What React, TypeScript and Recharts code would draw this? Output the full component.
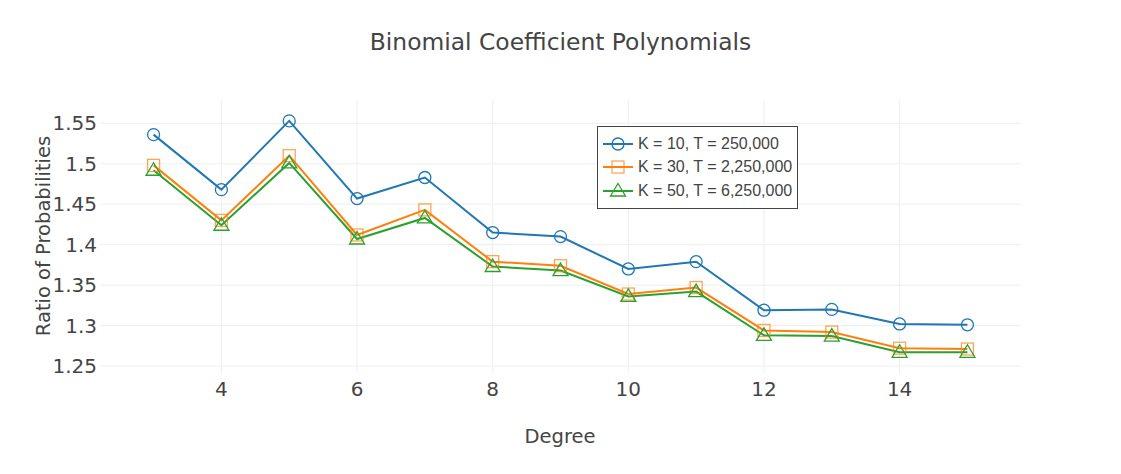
import React from "react";
import { LineChart, Line, XAxis, YAxis, CartesianGrid } from "recharts";

const degrees = [3, 4, 5, 6, 7, 8, 9, 10, 11, 12, 13, 14, 15];
const k10 = [1.536, 1.468, 1.553, 1.457, 1.483, 1.415, 1.41, 1.37, 1.379, 1.319, 1.32, 1.302, 1.301];
const k30 = [1.498, 1.43, 1.51, 1.412, 1.443, 1.379, 1.374, 1.339, 1.347, 1.294, 1.292, 1.272, 1.271];
const k50 = [1.492, 1.424, 1.501, 1.407, 1.433, 1.373, 1.368, 1.336, 1.342, 1.288, 1.287, 1.267, 1.267];
const xTicks = [4, 6, 8, 10, 12, 14];
const yTicks = [1.25, 1.3, 1.35, 1.4, 1.45, 1.5, 1.55];
const seriesNames = ["K = 10, T = 250,000", "K = 30, T = 2,250,000", "K = 50, T = 6,250,000"];

const data = degrees.map((d, i) => ({ degree: d, k10: k10[i], k30: k30[i], k50: k50[i] }));

const BLUE = "#1f77b4";
const ORANGE = "#ff7f0e";
const GREEN = "#2ca02c";
const TEXT = "#444";

const CircleDot = (props: any) => {
  const { cx, cy } = props;
  if (cx == null || cy == null) return null;
  return <circle cx={cx} cy={cy} r={6} fill="none" stroke={BLUE} strokeWidth={1.3} />;
};
const SquareDot = (props: any) => {
  const { cx, cy } = props;
  if (cx == null || cy == null) return null;
  return <rect x={cx - 6} y={cy - 6} width={12} height={12} fill="none" stroke={ORANGE} strokeOpacity={0.7} strokeWidth={1.3} />;
};
const TriDot = (props: any) => {
  const { cx, cy } = props;
  if (cx == null || cy == null) return null;
  return (
    <polygon
      points={`${cx},${cy - 7.5} ${cx + 7.5},${cy + 5} ${cx - 7.5},${cy + 5}`}
      fill="none"
      stroke={GREEN}
      strokeWidth={1.3}
    />
  );
};

const markerFor = (i: number, cx: number, cy: number) => {
  if (i === 0) return <CircleDot cx={cx} cy={cy} />;
  if (i === 1) return <SquareDot cx={cx} cy={cy} />;
  return <TriDot cx={cx} cy={cy} />;
};

const LegendBox = () => {
  const colors = [BLUE, ORANGE, GREEN];
  return (
    <div
      style={{
        position: "absolute",
        left: 589,
        top: 118,
        border: `1px solid ${TEXT}`,
        background: "#fff",
        width: 199,
        height: 76,
        paddingTop: 5,
        boxSizing: "content-box",
      }}
    >
      {seriesNames.map((n, i) => (
        <div key={n} style={{ display: "flex", alignItems: "center", height: 23.5 }}>
          <svg width={40} height={20} style={{ display: "block" }}>
            <line x1={5} y1={10} x2={35} y2={10} stroke={colors[i]} strokeWidth={2} />
            {markerFor(i, 20, 10)}
          </svg>
          <span
            style={{
              fontFamily: "'Liberation Sans', Arial, sans-serif",
              fontSize: 16,
              color: TEXT,
              whiteSpace: "nowrap",
            }}
          >
            {n}
          </span>
        </div>
      ))}
    </div>
  );
};

export default function App() {
  const tickFont = { fontFamily: "'DejaVu Sans', Verdana, sans-serif", fontSize: 20, fill: TEXT };
  return (
    <div style={{ position: "relative", width: 1105, height: 458 }}>
      <LineChart
        width={1105}
        height={458}
        data={data}
        margin={{ top: 92, right: 92, bottom: 33, left: 12 }}
      >
        <CartesianGrid stroke="#eee" strokeWidth={1} syncWithTicks />
        <XAxis
          dataKey="degree"
          type="number"
          domain={[2.21, 15.79]}
          ticks={xTicks}
          interval={0}
          axisLine={false}
          tickLine={false}
          tickSize={0}
          tickMargin={9}
          height={60}
          tick={tickFont}
          allowDataOverflow
        />
        <YAxis
          type="number"
          domain={[1.2414, 1.5788]}
          ticks={yTicks}
          interval={0}
          axisLine={false}
          tickLine={false}
          tickSize={0}
          tickMargin={3}
          width={80}
          tick={tickFont}
          tickFormatter={(v: number) => String(Number(v.toFixed(2)))}
          allowDataOverflow
        />
        <Line
          dataKey="k10"
          name={seriesNames[0]}
          stroke={BLUE}
          strokeWidth={2}
          dot={<CircleDot />}
          activeDot={false}
          isAnimationActive={false}
        />
        <Line
          dataKey="k30"
          name={seriesNames[1]}
          stroke={ORANGE}
          strokeWidth={2}
          dot={<SquareDot />}
          activeDot={false}
          isAnimationActive={false}
        />
        <Line
          dataKey="k50"
          name={seriesNames[2]}
          stroke={GREEN}
          strokeWidth={2}
          dot={<TriDot />}
          activeDot={false}
          isAnimationActive={false}
        />
      </LineChart>
      <LegendBox />
      <div
        style={{
          position: "absolute",
          left: 0,
          width: 1105,
          top: 20,
          textAlign: "center",
          fontFamily: "'DejaVu Sans', Verdana, sans-serif",
          fontSize: 23.4,
          color: TEXT,
          lineHeight: "28px",
        }}
      >
        Binomial Coefficient Polynomials
      </div>
      <div
        style={{
          position: "absolute",
          left: 452,
          width: 200,
          top: 417,
          textAlign: "center",
          fontFamily: "'DejaVu Sans', Verdana, sans-serif",
          fontSize: 19.5,
          color: TEXT,
          lineHeight: "24px",
        }}
      >
        Degree
      </div>
      <div
        style={{
          position: "absolute",
          left: 36 - 150,
          top: 228 - 12,
          width: 300,
          textAlign: "center",
          fontFamily: "'DejaVu Sans', Verdana, sans-serif",
          fontSize: 19.5,
          color: TEXT,
          lineHeight: "24px",
          transform: "rotate(-90deg)",
        }}
      >
        Ratio of Probabilities
      </div>
    </div>
  );
}
